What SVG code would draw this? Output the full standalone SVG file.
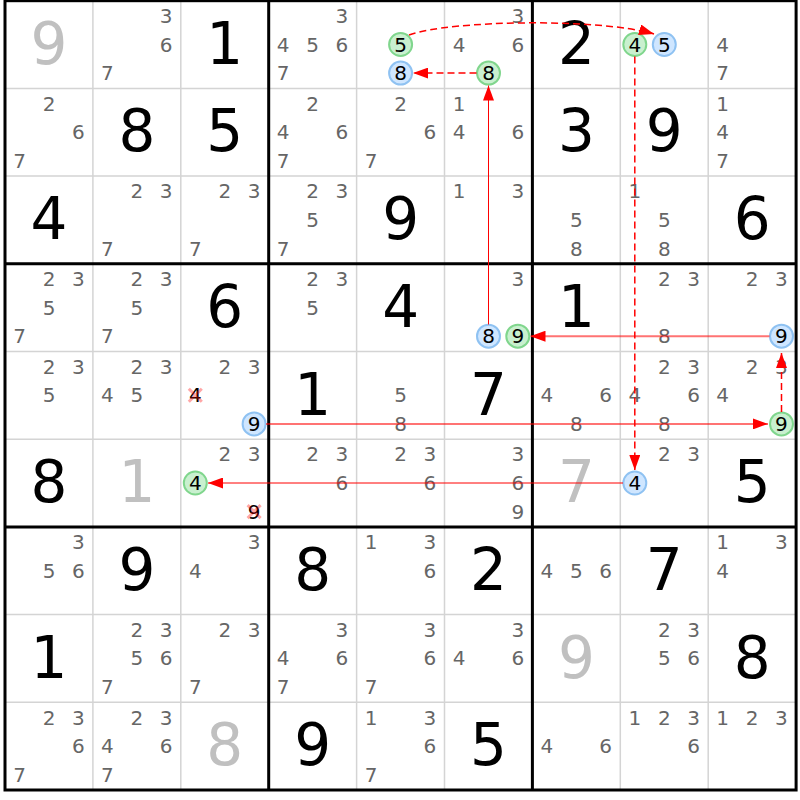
<svg xmlns="http://www.w3.org/2000/svg" width="800" height="800" viewBox="0 0 800 800">
<style>
text{font-family:"DejaVu Sans","Verdana",sans-serif;text-anchor:middle}
.c{font-size:20px;fill:#666}
.k{font-size:20px;fill:#000}
.g{font-size:58px;fill:#000}
.gv{font-size:58px;fill:#c0c0c0}
.thin{stroke:#d4d4d4;stroke-width:1.5}
.thick{stroke:#000;stroke-width:3}
.cb{fill:#cfe6ff;stroke:#8fc2f2;stroke-width:2}
.cg{fill:#c9f0cf;stroke:#80d68d;stroke-width:2}
.x{stroke:#ff0000;stroke-opacity:0.35;stroke-width:3}
.ls{stroke:#ff0000;stroke-width:1;fill:none}
.ll{stroke:#ff0000;stroke-opacity:0.55;stroke-width:2;fill:none}
.ld{stroke:#ff0000;stroke-width:1.5;stroke-dasharray:7,4;fill:none}
</style>
<defs>
<marker id="ah" markerUnits="userSpaceOnUse" viewBox="0 0 15 11" markerWidth="15" markerHeight="11" refX="15" refY="5.5" orient="auto">
<path d="M0,0 L15,5.5 L0,11 z" fill="#ff0000"/>
</marker>
</defs>
<rect x="0" y="0" width="800" height="800" fill="#fff"/>
<g id="grid">
<path class="thin" d="M92.9,0.7V790M180.8,0.7V790M356.6,0.7V790M444.5,0.7V790M620.3,0.7V790M708.2,0.7V790M5,88.4H796.1M5,176.1H796.1M5,351.5H796.1M5,439.2H796.1M5,614.6H796.1M5,702.3H796.1"/>
<path class="thick" d="M268.7,0.7V790M532.4,0.7V790M5,263.8H796.1M5,526.9H796.1"/>
<rect class="thick" x="5" y="0.7" width="791.1" height="789.3" fill="none"/>
</g>
<g id="cells">
<g id="r0c0" transform="translate(5,0.7)"><text class="gv" x="44" y="63">9</text></g>
<g id="r0c1" transform="translate(92.9,0.7)"><text class="c" x="73.3" y="22.3">3</text><text class="c" x="73.3" y="50.9">6</text><text class="c" x="14.5" y="79.5">7</text></g>
<g id="r0c2" transform="translate(180.8,0.7)"><text class="g" x="44" y="63">1</text></g>
<g id="r0c3" transform="translate(268.7,0.7)"><text class="c" x="73.3" y="22.3">3</text><text class="c" x="14.5" y="50.9">4</text><text class="c" x="44" y="50.9">5</text><text class="c" x="73.3" y="50.9">6</text><text class="c" x="14.5" y="79.5">7</text></g>
<g id="r0c4" transform="translate(356.6,0.7)"><circle class="cg" cx="44" cy="43.8" r="11.5"/><text class="k" x="44" y="50.9">5</text><circle class="cb" cx="44" cy="72.4" r="11.5"/><text class="k" x="44" y="79.5">8</text></g>
<g id="r0c5" transform="translate(444.5,0.7)"><text class="c" x="73.3" y="22.3">3</text><text class="c" x="14.5" y="50.9">4</text><text class="c" x="73.3" y="50.9">6</text><circle class="cg" cx="44" cy="72.4" r="11.5"/><text class="k" x="44" y="79.5">8</text></g>
<g id="r0c6" transform="translate(532.4,0.7)"><text class="g" x="44" y="63">2</text></g>
<g id="r0c7" transform="translate(620.3,0.7)"><circle class="cg" cx="14.5" cy="43.8" r="11.5"/><text class="k" x="14.5" y="50.9">4</text><circle class="cb" cx="44" cy="43.8" r="11.5"/><text class="k" x="44" y="50.9">5</text></g>
<g id="r0c8" transform="translate(708.2,0.7)"><text class="c" x="14.5" y="50.9">4</text><text class="c" x="14.5" y="79.5">7</text></g>
<g id="r1c0" transform="translate(5,88.4)"><text class="c" x="44" y="22.3">2</text><text class="c" x="73.3" y="50.9">6</text><text class="c" x="14.5" y="79.5">7</text></g>
<g id="r1c1" transform="translate(92.9,88.4)"><text class="g" x="44" y="63">8</text></g>
<g id="r1c2" transform="translate(180.8,88.4)"><text class="g" x="44" y="63">5</text></g>
<g id="r1c3" transform="translate(268.7,88.4)"><text class="c" x="44" y="22.3">2</text><text class="c" x="14.5" y="50.9">4</text><text class="c" x="73.3" y="50.9">6</text><text class="c" x="14.5" y="79.5">7</text></g>
<g id="r1c4" transform="translate(356.6,88.4)"><text class="c" x="44" y="22.3">2</text><text class="c" x="73.3" y="50.9">6</text><text class="c" x="14.5" y="79.5">7</text></g>
<g id="r1c5" transform="translate(444.5,88.4)"><text class="c" x="14.5" y="22.3">1</text><text class="c" x="14.5" y="50.9">4</text><text class="c" x="73.3" y="50.9">6</text></g>
<g id="r1c6" transform="translate(532.4,88.4)"><text class="g" x="44" y="63">3</text></g>
<g id="r1c7" transform="translate(620.3,88.4)"><text class="g" x="44" y="63">9</text></g>
<g id="r1c8" transform="translate(708.2,88.4)"><text class="c" x="14.5" y="22.3">1</text><text class="c" x="14.5" y="50.9">4</text><text class="c" x="14.5" y="79.5">7</text></g>
<g id="r2c0" transform="translate(5,176.1)"><text class="g" x="44" y="63">4</text></g>
<g id="r2c1" transform="translate(92.9,176.1)"><text class="c" x="44" y="22.3">2</text><text class="c" x="73.3" y="22.3">3</text><text class="c" x="14.5" y="79.5">7</text></g>
<g id="r2c2" transform="translate(180.8,176.1)"><text class="c" x="44" y="22.3">2</text><text class="c" x="73.3" y="22.3">3</text><text class="c" x="14.5" y="79.5">7</text></g>
<g id="r2c3" transform="translate(268.7,176.1)"><text class="c" x="44" y="22.3">2</text><text class="c" x="73.3" y="22.3">3</text><text class="c" x="44" y="50.9">5</text><text class="c" x="14.5" y="79.5">7</text></g>
<g id="r2c4" transform="translate(356.6,176.1)"><text class="g" x="44" y="63">9</text></g>
<g id="r2c5" transform="translate(444.5,176.1)"><text class="c" x="14.5" y="22.3">1</text><text class="c" x="73.3" y="22.3">3</text></g>
<g id="r2c6" transform="translate(532.4,176.1)"><text class="c" x="44" y="50.9">5</text><text class="c" x="44" y="79.5">8</text></g>
<g id="r2c7" transform="translate(620.3,176.1)"><text class="c" x="14.5" y="22.3">1</text><text class="c" x="44" y="50.9">5</text><text class="c" x="44" y="79.5">8</text></g>
<g id="r2c8" transform="translate(708.2,176.1)"><text class="g" x="44" y="63">6</text></g>
<g id="r3c0" transform="translate(5,263.8)"><text class="c" x="44" y="22.3">2</text><text class="c" x="73.3" y="22.3">3</text><text class="c" x="44" y="50.9">5</text><text class="c" x="14.5" y="79.5">7</text></g>
<g id="r3c1" transform="translate(92.9,263.8)"><text class="c" x="44" y="22.3">2</text><text class="c" x="73.3" y="22.3">3</text><text class="c" x="44" y="50.9">5</text><text class="c" x="14.5" y="79.5">7</text></g>
<g id="r3c2" transform="translate(180.8,263.8)"><text class="g" x="44" y="63">6</text></g>
<g id="r3c3" transform="translate(268.7,263.8)"><text class="c" x="44" y="22.3">2</text><text class="c" x="73.3" y="22.3">3</text><text class="c" x="44" y="50.9">5</text></g>
<g id="r3c4" transform="translate(356.6,263.8)"><text class="g" x="44" y="63">4</text></g>
<g id="r3c5" transform="translate(444.5,263.8)"><text class="c" x="73.3" y="22.3">3</text><circle class="cb" cx="44" cy="72.4" r="11.5"/><text class="k" x="44" y="79.5">8</text><circle class="cg" cx="73.3" cy="72.4" r="11.5"/><text class="k" x="73.3" y="79.5">9</text></g>
<g id="r3c6" transform="translate(532.4,263.8)"><text class="g" x="44" y="63">1</text></g>
<g id="r3c7" transform="translate(620.3,263.8)"><text class="c" x="44" y="22.3">2</text><text class="c" x="73.3" y="22.3">3</text><text class="c" x="44" y="79.5">8</text></g>
<g id="r3c8" transform="translate(708.2,263.8)"><text class="c" x="44" y="22.3">2</text><text class="c" x="73.3" y="22.3">3</text><circle class="cb" cx="73.3" cy="72.4" r="11.5"/><text class="k" x="73.3" y="79.5">9</text></g>
<g id="r4c0" transform="translate(5,351.5)"><text class="c" x="44" y="22.3">2</text><text class="c" x="73.3" y="22.3">3</text><text class="c" x="44" y="50.9">5</text></g>
<g id="r4c1" transform="translate(92.9,351.5)"><text class="c" x="44" y="22.3">2</text><text class="c" x="73.3" y="22.3">3</text><text class="c" x="14.5" y="50.9">4</text><text class="c" x="44" y="50.9">5</text></g>
<g id="r4c2" transform="translate(180.8,351.5)"><text class="c" x="44" y="22.3">2</text><text class="c" x="73.3" y="22.3">3</text><text class="k" x="14.5" y="50.9">4</text><path class="x" d="M8,37.3L21,50.3M21,37.3L8,50.3"/><circle class="cb" cx="73.3" cy="72.4" r="11.5"/><text class="k" x="73.3" y="79.5">9</text></g>
<g id="r4c3" transform="translate(268.7,351.5)"><text class="g" x="44" y="63">1</text></g>
<g id="r4c4" transform="translate(356.6,351.5)"><text class="c" x="44" y="50.9">5</text><text class="c" x="44" y="79.5">8</text></g>
<g id="r4c5" transform="translate(444.5,351.5)"><text class="g" x="44" y="63">7</text></g>
<g id="r4c6" transform="translate(532.4,351.5)"><text class="c" x="14.5" y="50.9">4</text><text class="c" x="73.3" y="50.9">6</text><text class="c" x="44" y="79.5">8</text></g>
<g id="r4c7" transform="translate(620.3,351.5)"><text class="c" x="44" y="22.3">2</text><text class="c" x="73.3" y="22.3">3</text><text class="c" x="14.5" y="50.9">4</text><text class="c" x="73.3" y="50.9">6</text><text class="c" x="44" y="79.5">8</text></g>
<g id="r4c8" transform="translate(708.2,351.5)"><text class="c" x="44" y="22.3">2</text><text class="c" x="73.3" y="22.3">3</text><text class="c" x="14.5" y="50.9">4</text><circle class="cg" cx="73.3" cy="72.4" r="11.5"/><text class="k" x="73.3" y="79.5">9</text></g>
<g id="r5c0" transform="translate(5,439.2)"><text class="g" x="44" y="63">8</text></g>
<g id="r5c1" transform="translate(92.9,439.2)"><text class="gv" x="44" y="63">1</text></g>
<g id="r5c2" transform="translate(180.8,439.2)"><text class="c" x="44" y="22.3">2</text><text class="c" x="73.3" y="22.3">3</text><circle class="cg" cx="14.5" cy="43.8" r="11.5"/><text class="k" x="14.5" y="50.9">4</text><text class="k" x="73.3" y="79.5">9</text><path class="x" d="M66.8,65.9L79.8,78.9M79.8,65.9L66.8,78.9"/></g>
<g id="r5c3" transform="translate(268.7,439.2)"><text class="c" x="44" y="22.3">2</text><text class="c" x="73.3" y="22.3">3</text><text class="c" x="73.3" y="50.9">6</text></g>
<g id="r5c4" transform="translate(356.6,439.2)"><text class="c" x="44" y="22.3">2</text><text class="c" x="73.3" y="22.3">3</text><text class="c" x="73.3" y="50.9">6</text></g>
<g id="r5c5" transform="translate(444.5,439.2)"><text class="c" x="73.3" y="22.3">3</text><text class="c" x="73.3" y="50.9">6</text><text class="c" x="73.3" y="79.5">9</text></g>
<g id="r5c6" transform="translate(532.4,439.2)"><text class="gv" x="44" y="63">7</text></g>
<g id="r5c7" transform="translate(620.3,439.2)"><text class="c" x="44" y="22.3">2</text><text class="c" x="73.3" y="22.3">3</text><circle class="cb" cx="14.5" cy="43.8" r="11.5"/><text class="k" x="14.5" y="50.9">4</text></g>
<g id="r5c8" transform="translate(708.2,439.2)"><text class="g" x="44" y="63">5</text></g>
<g id="r6c0" transform="translate(5,526.9)"><text class="c" x="73.3" y="22.3">3</text><text class="c" x="44" y="50.9">5</text><text class="c" x="73.3" y="50.9">6</text></g>
<g id="r6c1" transform="translate(92.9,526.9)"><text class="g" x="44" y="63">9</text></g>
<g id="r6c2" transform="translate(180.8,526.9)"><text class="c" x="73.3" y="22.3">3</text><text class="c" x="14.5" y="50.9">4</text></g>
<g id="r6c3" transform="translate(268.7,526.9)"><text class="g" x="44" y="63">8</text></g>
<g id="r6c4" transform="translate(356.6,526.9)"><text class="c" x="14.5" y="22.3">1</text><text class="c" x="73.3" y="22.3">3</text><text class="c" x="73.3" y="50.9">6</text></g>
<g id="r6c5" transform="translate(444.5,526.9)"><text class="g" x="44" y="63">2</text></g>
<g id="r6c6" transform="translate(532.4,526.9)"><text class="c" x="14.5" y="50.9">4</text><text class="c" x="44" y="50.9">5</text><text class="c" x="73.3" y="50.9">6</text></g>
<g id="r6c7" transform="translate(620.3,526.9)"><text class="g" x="44" y="63">7</text></g>
<g id="r6c8" transform="translate(708.2,526.9)"><text class="c" x="14.5" y="22.3">1</text><text class="c" x="73.3" y="22.3">3</text><text class="c" x="14.5" y="50.9">4</text></g>
<g id="r7c0" transform="translate(5,614.6)"><text class="g" x="44" y="63">1</text></g>
<g id="r7c1" transform="translate(92.9,614.6)"><text class="c" x="44" y="22.3">2</text><text class="c" x="73.3" y="22.3">3</text><text class="c" x="44" y="50.9">5</text><text class="c" x="73.3" y="50.9">6</text><text class="c" x="14.5" y="79.5">7</text></g>
<g id="r7c2" transform="translate(180.8,614.6)"><text class="c" x="44" y="22.3">2</text><text class="c" x="73.3" y="22.3">3</text><text class="c" x="14.5" y="79.5">7</text></g>
<g id="r7c3" transform="translate(268.7,614.6)"><text class="c" x="73.3" y="22.3">3</text><text class="c" x="14.5" y="50.9">4</text><text class="c" x="73.3" y="50.9">6</text><text class="c" x="14.5" y="79.5">7</text></g>
<g id="r7c4" transform="translate(356.6,614.6)"><text class="c" x="73.3" y="22.3">3</text><text class="c" x="73.3" y="50.9">6</text><text class="c" x="14.5" y="79.5">7</text></g>
<g id="r7c5" transform="translate(444.5,614.6)"><text class="c" x="73.3" y="22.3">3</text><text class="c" x="14.5" y="50.9">4</text><text class="c" x="73.3" y="50.9">6</text></g>
<g id="r7c6" transform="translate(532.4,614.6)"><text class="gv" x="44" y="63">9</text></g>
<g id="r7c7" transform="translate(620.3,614.6)"><text class="c" x="44" y="22.3">2</text><text class="c" x="73.3" y="22.3">3</text><text class="c" x="44" y="50.9">5</text><text class="c" x="73.3" y="50.9">6</text></g>
<g id="r7c8" transform="translate(708.2,614.6)"><text class="g" x="44" y="63">8</text></g>
<g id="r8c0" transform="translate(5,702.3)"><text class="c" x="44" y="22.3">2</text><text class="c" x="73.3" y="22.3">3</text><text class="c" x="73.3" y="50.9">6</text><text class="c" x="14.5" y="79.5">7</text></g>
<g id="r8c1" transform="translate(92.9,702.3)"><text class="c" x="44" y="22.3">2</text><text class="c" x="73.3" y="22.3">3</text><text class="c" x="14.5" y="50.9">4</text><text class="c" x="73.3" y="50.9">6</text><text class="c" x="14.5" y="79.5">7</text></g>
<g id="r8c2" transform="translate(180.8,702.3)"><text class="gv" x="44" y="63">8</text></g>
<g id="r8c3" transform="translate(268.7,702.3)"><text class="g" x="44" y="63">9</text></g>
<g id="r8c4" transform="translate(356.6,702.3)"><text class="c" x="14.5" y="22.3">1</text><text class="c" x="73.3" y="22.3">3</text><text class="c" x="73.3" y="50.9">6</text><text class="c" x="14.5" y="79.5">7</text></g>
<g id="r8c5" transform="translate(444.5,702.3)"><text class="g" x="44" y="63">5</text></g>
<g id="r8c6" transform="translate(532.4,702.3)"><text class="c" x="14.5" y="50.9">4</text><text class="c" x="73.3" y="50.9">6</text></g>
<g id="r8c7" transform="translate(620.3,702.3)"><text class="c" x="14.5" y="22.3">1</text><text class="c" x="44" y="22.3">2</text><text class="c" x="73.3" y="22.3">3</text><text class="c" x="73.3" y="50.9">6</text></g>
<g id="r8c8" transform="translate(708.2,702.3)"><text class="c" x="14.5" y="22.3">1</text><text class="c" x="44" y="22.3">2</text><text class="c" x="73.3" y="22.3">3</text></g>
</g>
<g id="links">
<path class="ld" d="M409,35 C450,20 600,18 654,34" marker-end="url(#ah)"/>
<path class="ld" d="M476.5,73.1 L413,73.1" marker-end="url(#ah)"/>
<path class="ls" d="M488.5,324.5 L488.5,85.5" marker-end="url(#ah)"/>
<path class="ll" d="M769.5,336.2 L530.5,336.2" marker-end="url(#ah)"/>
<path class="ld" d="M781.5,412 L781.5,353" marker-end="url(#ah)"/>
<path class="ll" d="M266,423.9 L768,423.9" marker-end="url(#ah)"/>
<path class="ld" d="M634.8,56.5 L634.8,470" marker-end="url(#ah)"/>
<path class="ls" d="M623,483 L208,483" marker-end="url(#ah)"/>
</g>
</svg>
